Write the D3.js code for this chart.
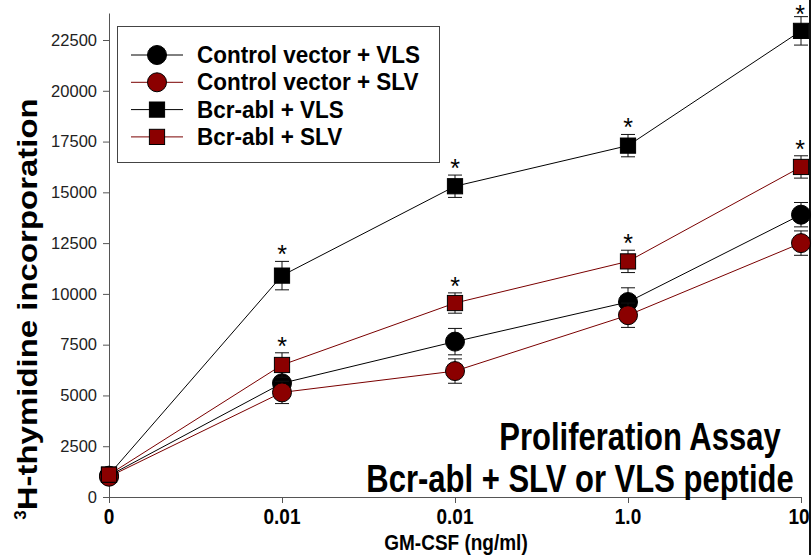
<!DOCTYPE html>
<html><head><meta charset="utf-8">
<script src="https://cdn.jsdelivr.net/npm/d3@7"></script>
<style>body{margin:0;background:#fff}svg{display:block}</style>
</head><body><svg id="c" width="812" height="555"></svg>
<script>
const xLabels = ["0", "0.01", "0.01", "1.0", "10"];
const yTicks = [0, 2500, 5000, 7500, 10000, 12500, 15000, 17500, 20000, 22500];
const seriesNames = ["Control vector + VLS", "Control vector + SLV", "Bcr-abl + VLS", "Bcr-abl + SLV"];
const ctrlVLS = [1050, 5600, 7650, 9600, 13900];
const ctrlVLSErr = [250, 600, 650, 700, 600];
const ctrlSLV = [1000, 5150, 6200, 8950, 12500];
const ctrlSLVErr = [250, 550, 600, 600, 600];
const bcrVLS = [1100, 10900, 15300, 17300, 22950];
const bcrVLSErr = [300, 700, 550, 550, 700];
const bcrSLV = [1100, 6500, 9550, 11600, 16250];
const bcrSLVErr = [300, 600, 500, 550, 550];
const starred = [false, true, true, true, true];
const shapes = ["circle", "circle", "square", "square"];
const fills = ["#000000", "#8b0000", "#000000", "#8b0000"];
const lineColors = ["#000000", "#7a0000", "#000000", "#7a0000"];
const titleLines = ["Proliferation Assay", "Bcr-abl + SLV or VLS peptide"];

const series = [
  {name: seriesNames[0], v: ctrlVLS, e: ctrlVLSErr, star: false},
  {name: seriesNames[1], v: ctrlSLV, e: ctrlSLVErr, star: false},
  {name: seriesNames[2], v: bcrVLS, e: bcrVLSErr, star: true},
  {name: seriesNames[3], v: bcrSLV, e: bcrSLVErr, star: true}
];

const svg = d3.select("#c");
const FONT = "Liberation Sans, Arial, sans-serif";
const x = d3.scalePoint().domain(d3.range(xLabels.length)).range([109, 801]);
const y = d3.scaleLinear().domain([0, 23830]).range([497, 13]);

function stretchedText(parent, tx, ty, sy, str, size, anchor, weight) {
  const g = parent.append("g").attr("transform", `translate(${tx},${ty}) scale(1,${sy})`);
  return g.append("text").attr("x", 0).attr("y", 0).attr("text-anchor", anchor || "start")
    .attr("font-family", FONT).attr("font-weight", weight || "bold").attr("font-size", size).attr("fill", "#000").text(str);
}

// axes
svg.append("g").attr("transform", "translate(0,497)")
  .call(d3.axisBottom(x).tickSizeInner(6).tickSizeOuter(0).tickPadding(5).tickFormat(() => ""));
x.domain().forEach(i => stretchedText(svg, x(i) + (i === 4 ? -2 : 0), 524, 1.2, xLabels[i], 19, "middle"));
const gy = svg.append("g").attr("transform", "translate(109,0)")
  .call(d3.axisLeft(y).tickValues(yTicks).tickSizeInner(6).tickSizeOuter(0).tickPadding(6).tickFormat(d3.format("d")));
gy.selectAll("text").attr("font-family", FONT).attr("font-size", 16.5).attr("fill", "#222");
svg.selectAll(".domain, .tick line").attr("stroke", "#555").attr("stroke-width", 1);

// right border line
svg.append("line").attr("x1", 810).attr("x2", 810).attr("y1", 0).attr("y2", 555).attr("stroke", "#111").attr("stroke-width", 2);

// lines
const line = d3.line().x((d, i) => x(i)).y(d => y(d));
series.forEach((s, k) => {
  svg.append("path").attr("d", line(s.v)).attr("fill", "none").attr("stroke", lineColors[k]).attr("stroke-width", 1);
});

function marker(g, shape, cx, cy, fill, r) {
  if (shape === "circle") {
    g.append("circle").attr("cx", cx).attr("cy", cy).attr("r", r).attr("fill", fill).attr("stroke", "#000").attr("stroke-width", 1);
  } else {
    const h = r * 0.8;
    g.append("rect").attr("x", cx - h).attr("y", cy - h).attr("width", 2 * h).attr("height", 2 * h)
      .attr("fill", fill).attr("stroke", "#000").attr("stroke-width", 1);
  }
}

series.forEach((s, k) => {
  const g = svg.append("g");
  s.v.forEach((v, i) => {
    const cx = x(i), t = y(v + s.e[i]), b = y(v - s.e[i]);
    g.append("line").attr("x1", cx).attr("x2", cx).attr("y1", t).attr("y2", b).attr("stroke", "#111");
    g.append("line").attr("x1", cx - 7).attr("x2", cx + 7).attr("y1", t).attr("y2", t).attr("stroke", "#111");
    g.append("line").attr("x1", cx - 7).attr("x2", cx + 7).attr("y1", b).attr("y2", b).attr("stroke", "#111");
  });
  s.v.forEach((v, i) => marker(g, shapes[k], x(i), y(v), fills[k], 9.5));
  if (s.star) {
    s.v.forEach((v, i) => {
      if (!starred[i]) return;
      const by = Math.max(y(v + s.e[i]) + 2, 23);
      g.append("text").attr("x", x(i) + (i === 4 ? -1 : 0)).attr("y", by).attr("text-anchor", "middle")
        .attr("font-family", FONT).attr("font-size", 25).attr("fill", "#000").text("*");
    });
  }
});

// legend
const lg = svg.append("g");
lg.append("rect").attr("x", 117.5).attr("y", 26.5).attr("width", 322).attr("height", 136)
  .attr("fill", "#fff").attr("stroke", "#444").attr("stroke-width", 1);
seriesNames.forEach((n, k) => {
  const cy = 55 + k * 27.3;
  lg.append("line").attr("x1", 131).attr("x2", 183).attr("y1", cy).attr("y2", cy).attr("stroke", lineColors[k]);
  marker(lg, shapes[k], 157, cy, fills[k], 9.5);
  stretchedText(lg, 197, cy + 8, 1.1, n, 22.5, "start");
});

// title lines
stretchedText(svg, 640, 450, 1.25, titleLines[0], 31, "middle");
stretchedText(svg, 580, 492, 1.25, titleLines[1], 31, "middle");

// axis titles
stretchedText(svg, 456, 550, 1.2, "GM-CSF (ng/ml)", 19, "middle");
const yl = svg.append("text").attr("transform", "translate(37,309) rotate(-90)").attr("text-anchor", "middle")
  .attr("font-family", FONT).attr("font-weight", "bold").attr("font-size", 28).attr("fill", "#000");
yl.append("tspan").attr("font-size", 17).attr("dy", -11).text("3");
yl.append("tspan").attr("dy", 11).attr("textLength", 412).attr("lengthAdjust", "spacingAndGlyphs").text("H-thymidine incorporation");
</script></body></html>
